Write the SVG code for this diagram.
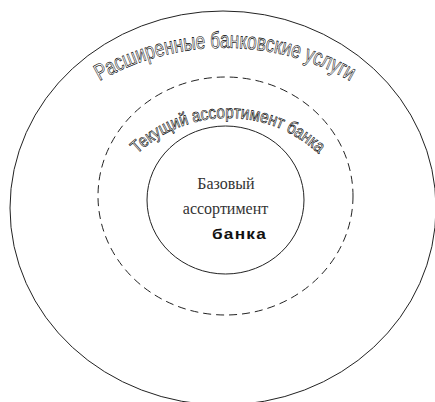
<svg xmlns="http://www.w3.org/2000/svg" width="435" height="402" viewBox="0 0 435 402">
  <style>
    .ring { fill: none; stroke: #222; stroke-width: 1; }
    .dash { stroke-dasharray: 8 5; }
    .arc-label { font-family: "Liberation Sans", Arial, sans-serif; fill: #fff; stroke: #000; stroke-width: 0.65; }
    .serif { font-family: "Liberation Serif", "Times New Roman", serif; font-size: 16px; fill: #333; }
    .bold { font-family: "Liberation Sans", Arial, sans-serif; font-size: 14px; font-weight: bold; fill: #111; }
  </style>
  <defs>
    <path id="outerArc" d="M 93 85 A 252.7 252.7 0 0 1 357 85"/>
    <path id="middleArc" d="M 133 158 A 132.8 132.8 0 0 1 323 158"/>
  </defs>
  <rect width="435" height="402" fill="#fff"/>

  <g id="extended">
    <ellipse class="ring" cx="223" cy="208" rx="213" ry="197"/>
    <text class="arc-label" font-size="23"><textPath href="#outerArc" startOffset="50%" text-anchor="middle" textLength="262" lengthAdjust="spacingAndGlyphs">Расширенные банковские услуги</textPath></text>
  </g>

  <g id="current">
    <ellipse class="ring dash" cx="225.5" cy="196" rx="127.5" ry="119"/>
    <text class="arc-label" font-size="18"><textPath href="#middleArc" startOffset="50%" text-anchor="middle" textLength="200" lengthAdjust="spacingAndGlyphs">Текущий ассортимент банка</textPath></text>
  </g>

  <g id="base">
    <ellipse class="ring" cx="225.5" cy="200" rx="78.5" ry="74"/>
    <text class="serif" x="226" y="189" text-anchor="middle">Базовый</text>
    <text class="serif" x="225.5" y="214" text-anchor="middle">ассортимент</text>
    <text class="bold" x="212" y="239" textLength="55" lengthAdjust="spacingAndGlyphs" letter-spacing="1">банка</text>
  </g>
</svg>
